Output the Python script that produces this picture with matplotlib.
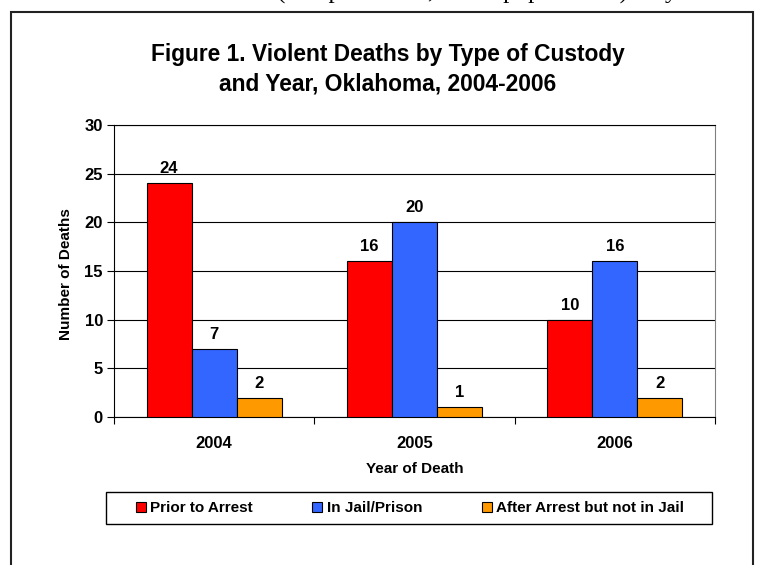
import matplotlib.pyplot as plt
import numpy as np
from matplotlib.patches import Rectangle

plt.rcParams['font.family'] = 'Liberation Sans'
plt.rcParams['font.weight'] = 'bold'

years = ["2004", "2005", "2006"]
prior_to_arrest = [24, 16, 10]
in_jail = [7, 20, 16]
after_arrest = [2, 1, 2]

series = [
    ("Prior to Arrest", prior_to_arrest, "#ff0000"),
    ("In Jail/Prison", in_jail, "#3366ff"),
    ("After Arrest but not in Jail", after_arrest, "#ff9900"),
]

W, H = 757, 565
fig = plt.figure(figsize=(W / 100, H / 100), dpi=100)

# outer frame of the embedded chart (bottom runs off the page)
fig.patches.append(Rectangle((11 / W, -0.05), (753 - 11) / W, (565 - 12) / H + 0.05,
                             transform=fig.transFigure, fill=False,
                             edgecolor="#222222", linewidth=1.5))

# bottom of the document text line above the chart, cut off by the crop
fig.text(277 / W, 1 + 1.5 / H, "(compared rate, to the populations) they",
         family="Liberation Serif", fontweight="normal", fontsize=18, va="baseline")

fig.text(388 / W, 1 - 55 / H, "Figure 1. Violent Deaths by Type of Custody",
         ha="center", va="center", fontsize=16.4)
fig.text(388 / W, 1 - 84 / H, "and Year, Oklahoma, 2004-2006",
         ha="center", va="center", fontsize=16.4)

ax = fig.add_axes([114 / W, 148 / H, 601 / W, 292 / H])
x = np.arange(len(years))
width = 0.225
for i, (name, vals, color) in enumerate(series):
    bars = ax.bar(x + (i - 1) * width, vals, width, color=color, edgecolor="black",
                  linewidth=0.8, label=name, zorder=3)
    ax.bar_label(bars, padding=5, fontsize=12, fontweight="bold")

ax.set_xlim(-0.5, 2.5)
ax.set_ylim(0, 30)
ax.set_yticks(range(0, 31, 5))
ax.yaxis.grid(True, color="black", linewidth=0.8, zorder=0)
ax.set_axisbelow(True)

ax.set_xticks([-0.5, 0.5, 1.5, 2.5])
ax.set_xticklabels([])
ax.set_xticks(x, minor=True)
ax.set_xticklabels(years, minor=True)
ax.tick_params(axis="x", which="major", direction="out", length=5, width=0.8)
ax.tick_params(axis="x", which="minor", length=0, pad=14, labelsize=12)
ax.tick_params(axis="y", direction="out", length=5, width=0.8, pad=3, labelsize=12)

for side in ["left", "bottom", "top"]:
    ax.spines[side].set_color("black")
ax.spines["right"].set_color("#808080")

ax.text(-0.08, 0.49, "Number of Deaths", transform=ax.transAxes, rotation=90,
        ha="center", va="center", fontsize=11)
ax.text(0.5, -0.178, "Year of Death", transform=ax.transAxes,
        ha="center", va="center", fontsize=11)

# legend box drawn separately so the padding matches the original
fig.patches.append(Rectangle((106 / W, 1 - 524 / H), 606 / W, 32 / H,
                             transform=fig.transFigure, fill=False,
                             edgecolor="black", linewidth=1))
fig.legend(loc="center", ncol=3, bbox_to_anchor=(410 / W, 1 - 508 / H),
           fontsize=11, frameon=False, handlelength=0.65, handleheight=0.65,
           handletextpad=0.3, columnspacing=3.9)

fig.savefig("out.png", dpi=100)
